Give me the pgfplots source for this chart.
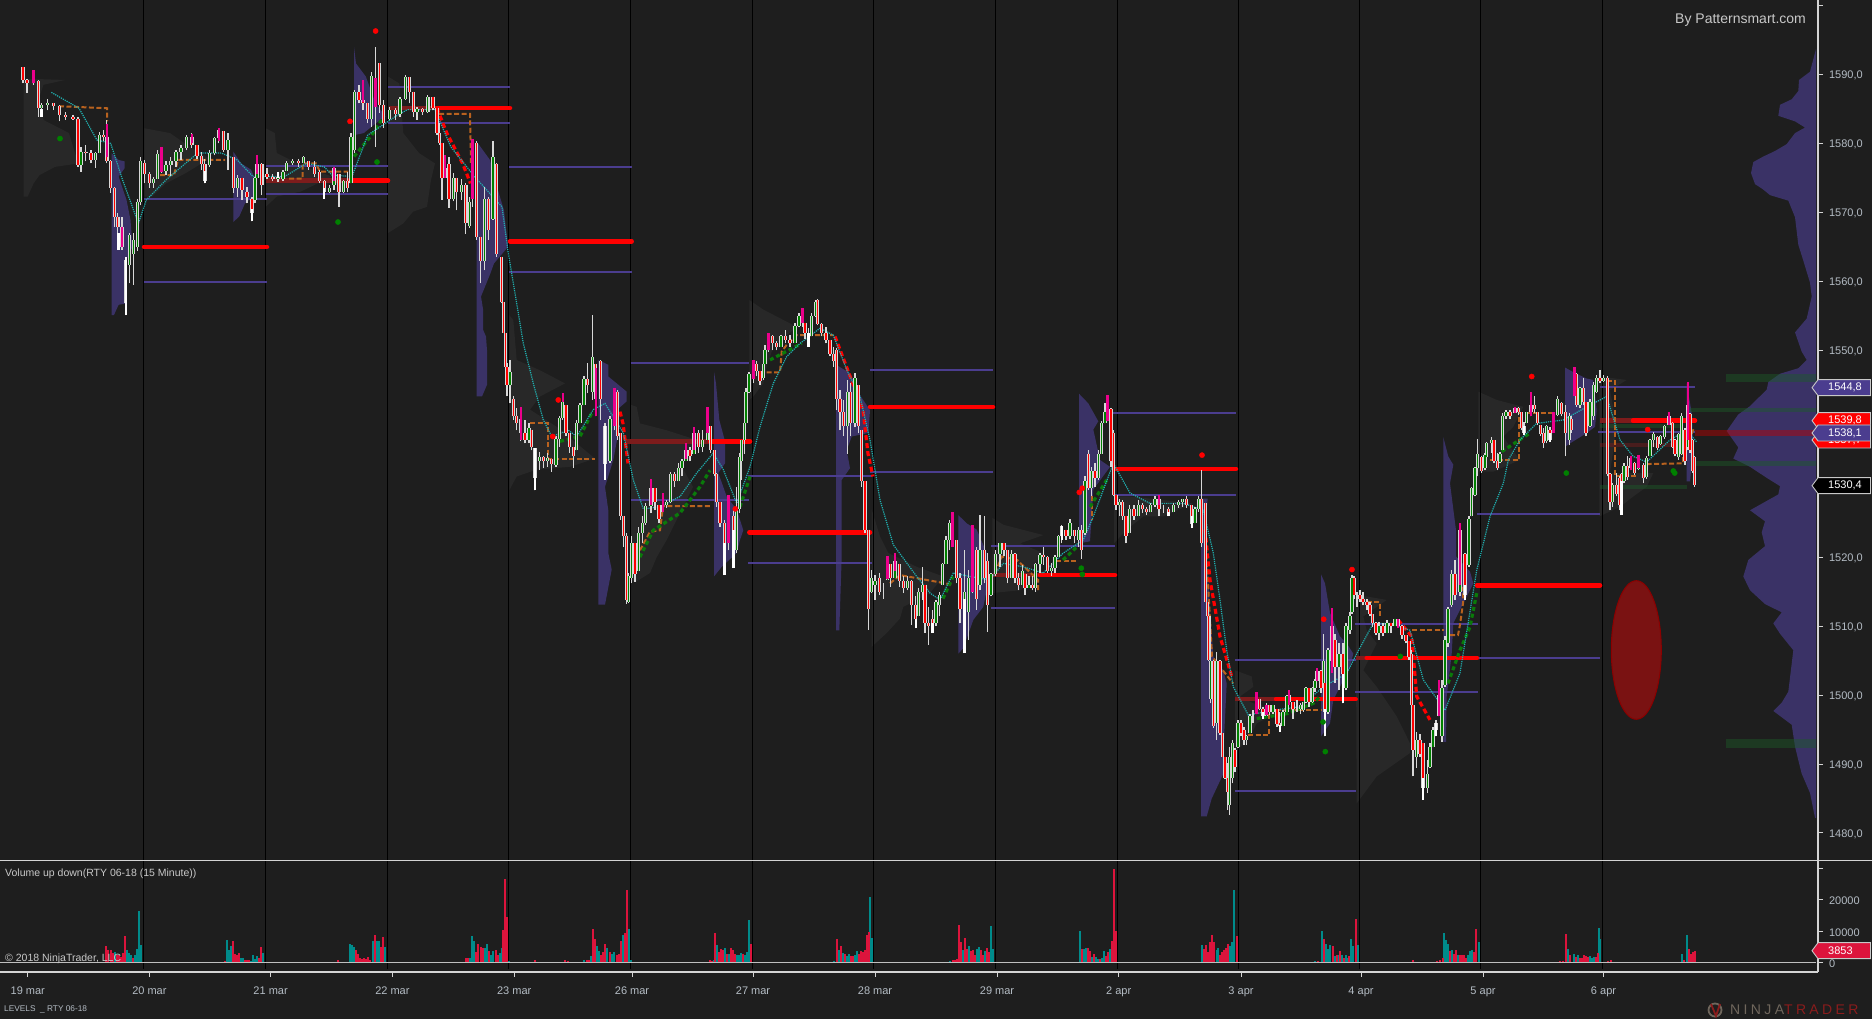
\documentclass[border=0pt]{standalone}
\usepackage{fontspec}
\setmainfont{Liberation Sans}
\usepackage{pgfplots}
\pgfplotsset{compat=1.18}
\definecolor{bg}{HTML}{1E1E1E}
\definecolor{gp}{HTML}{282828}
\definecolor{pp}{HTML}{3A3266}
\definecolor{bl}{HTML}{4B3D8F}
\definecolor{cand}{HTML}{D8D8D8}
\definecolor{axc}{HTML}{D4D4D4}
\definecolor{tk}{HTML}{B4BCC4}
\definecolor{orng}{HTML}{B8621F}
\definecolor{drk}{HTML}{7D1C1C}
\definecolor{grn}{HTML}{0A7A0A}
\definecolor{cy}{HTML}{20B0B0}
\definecolor{teal2}{HTML}{008B8B}
\definecolor{crim}{HTML}{DC143C}
\definecolor{lab}{HTML}{C8C8C8}
\definecolor{bandg}{HTML}{1C5A28}
% candles: x low high open close
\def\candledata{23 1588.7 1591.1 1591.1 1589.2
27 1587.3 1589.4 1589.2 1588.7
33.6 1588.5 1590.6 1588.7 1590.4
38.7 1583.9 1589.2 1589 1585.1
41.5 1583.8 1585.8 1585.1 1585.6
47.4 1584.8 1586.4 1585.6 1585.8
53.4 1584.9 1585.8 1585.8 1585.4
59.3 1583.2 1585.6 1585.4 1584.1
65.2 1583.4 1584.6 1584.1 1583.9
73 1583.4 1584.1 1583.9 1583.6
78 1576.6 1583.9 1583.6 1576.9
81 1575.9 1579.5 1576.9 1578.8
85.8 1577.4 1579.8 1578.8 1578.6
91 1577.1 1579 1578.6 1577.6
95.7 1576.5 1578.8 1577.6 1578.6
99.6 1578.8 1581.7 1578.6 1581.2
103.6 1580.3 1581.9 1581.2 1581
106.8 1577.1 1583.4 1581 1577.4
110.7 1572.8 1577.6 1577.4 1573.5
114.7 1567.9 1573.7 1573.5 1569.4
117.8 1564.6 1569.9 1569.4 1567.9
122 1564.6 1569.4 1567.9 1565
125.7 1555.1 1563.6 1556.8 1563.1
129.7 1559.7 1567 1562.4 1566.7
133.6 1559.5 1567 1564 1566
137.6 1564.4 1572 1565 1571.5
140.4 1571 1578 1571.5 1577.4
144.3 1574.2 1577.6 1577.2 1575.5
149.5 1573.5 1575.9 1575.5 1574.3
153.4 1573.5 1575.2 1574.3 1574.8
157.4 1575.2 1579 1574.8 1578.5
161.3 1575.7 1579.5 1578.5 1576
166 1575.4 1577.4 1576 1576.8
170.8 1575.3 1578 1576.8 1577.4
176 1576.6 1579 1577.4 1578.8
181 1577.6 1579.8 1578.8 1579.4
186.6 1579 1581.2 1579.4 1581
191.8 1579.3 1581.5 1581 1579.8
197 1577.8 1579.3 1579.8 1578.2
201.7 1576.2 1578.8 1578.2 1577
204.8 1574.2 1577.8 1577 1574.6
209.6 1576.6 1579 1576.8 1578.6
214.3 1578.3 1581 1578.6 1580.8
218.7 1580 1582.2 1580.8 1582
223.4 1578.8 1580.7 1581.8 1579
228 1576.2 1581.5 1579 1580.5
233.3 1572.8 1578 1578 1573.5
237.2 1572.3 1575.4 1573.5 1575
242 1571.8 1574.7 1575 1573.3
247 1571.3 1573.7 1573 1572.2
252 1568.7 1572.3 1572 1569.9
255 1571.3 1575.2 1571.8 1575
257 1575.2 1578.3 1575 1577
261.8 1572.5 1577.1 1577 1574
267 1574.9 1576.4 1575.5 1575.2
272.8 1574.5 1575.6 1575.2 1574.9
278 1574.4 1575.8 1574.9 1575.2
283 1574.6 1576.2 1574.8 1575.9
286.7 1576.2 1577.4 1576 1577.2
292.6 1576.9 1577.8 1577.1 1577.5
298.5 1576.6 1577.7 1577.4 1577.1
303.3 1577.1 1578.2 1577.2 1578
308.4 1576.2 1577.4 1577.5 1576.6
314.4 1575.2 1577.4 1576.6 1575.6
319.5 1574.2 1576.2 1575.8 1574.6
324.2 1572 1574.7 1574.6 1573
329.4 1572.8 1574 1573 1573.6
334 1573.2 1576.6 1574 1576.5
338.9 1570.8 1575.2 1575.5 1573
343.2 1572.8 1574.7 1573 1574.5
347.2 1572.9 1575.9 1574.5 1573.5
351 1574.2 1581.5 1574.2 1580.9
354.7 1578.6 1587.8 1579 1587.4
359 1585.8 1588.5 1587.4 1586.3
363 1584.9 1589.2 1586.3 1585.8
367.7 1582.9 1585.3 1585.8 1583.5
371.7 1582.4 1590.4 1583.5 1589.8
375.6 1579.5 1594 1589.5 1585.3
379.6 1584.4 1591.6 1591.6 1585.5
383.5 1582.2 1586.3 1585.5 1583
389.5 1583.4 1585.3 1583.5 1584.8
395.4 1583.4 1585.1 1584.8 1584.3
400 1583.9 1586.8 1584.3 1586.5
405.3 1586.3 1589.9 1586.5 1589.6
409.3 1585.8 1588.2 1589.6 1587.5
413.2 1583.9 1586.3 1587.5 1584.5
417 1583.4 1585.3 1584.5 1585
422.3 1584.1 1585.1 1585 1584.5
427.8 1584.4 1587 1584.5 1586.8
433 1584.8 1586.5 1586.8 1585.2
437 1581.2 1585.1 1585.2 1581.5
439.7 1579.8 1582.9 1581.5 1580
442 1571.8 1580 1580 1575
444.8 1575.2 1578.3 1575 1576.5
449 1570.6 1578.1 1577 1572
453.6 1571.6 1575.7 1572 1575
456.7 1570.3 1574.7 1575 1573
461.4 1571.8 1574.9 1573 1574
465.8 1566.9 1574.2 1574 1568.5
469.4 1567.7 1572.3 1568 1571.5
472.5 1570.8 1580.7 1580 1572
476.5 1566 1580.3 1580 1566.5
480.4 1559.7 1566.5 1566.5 1563
484.4 1561.6 1573.7 1563 1572
488.3 1566 1572.3 1572 1567.5
493 1568.9 1580.3 1569 1578
496.2 1563.6 1577.1 1577 1564
501.4 1556.8 1563.6 1563.6 1557
503.5 1552.5 1557 1557 1552.5
505.5 1547.6 1552.5 1552.5 1547.6
507 1543.3 1548.1 1547.6 1545
510 1542.3 1548.6 1545 1546.8
513.3 1539.9 1543.3 1543 1540.5
516.7 1538.4 1541.6 1540.5 1539.5
520.7 1536.8 1541.8 1540 1538
525 1536.5 1539.9 1538 1537
529 1536.5 1539.4 1537 1538.7
531.7 1535.5 1538.4 1538.5 1536
535 1529.7 1535.8 1535.8 1531.5
539.3 1532.7 1535.3 1534 1534.5
543.3 1532.9 1534.6 1534.5 1534
547.7 1533.1 1535.1 1534 1534.4
551.7 1532.4 1534.3 1534.3 1533.5
556 1533.1 1537.5 1533.4 1537.2
559.3 1536 1540.4 1537.2 1540.2
562.7 1539.9 1543.8 1540.2 1542.5
566 1537.5 1541.8 1542 1538
569.3 1535.1 1538 1538 1536
573.3 1532.9 1536 1536 1534.7
576.7 1535.5 1539.9 1535.5 1539.5
580 1539.4 1542.3 1539.5 1542
584 1542.3 1546.2 1542 1545.8
587.3 1543.8 1548.1 1545.8 1545
592.3 1542.8 1555.1 1544 1549
595.7 1540.4 1547.4 1548 1543
600.7 1539.9 1548.6 1548.5 1543
605 1531.2 1539.4 1539 1533.5
610 1533.6 1540.4 1534 1540
614.3 1538.4 1544.5 1540 1544
617.3 1537 1544.3 1544 1537.5
620.7 1525.4 1538 1538 1526
623.3 1521.5 1525.6 1526 1523
626.7 1513.2 1523.5 1523 1513.8
628.3 1513.3 1517.7 1513.5 1517.3
631.7 1516.2 1523 1517 1522
635 1516.4 1521 1522 1517.5
638.3 1518.6 1524.4 1518 1523.5
642.3 1522 1525.9 1523.5 1525
645.7 1524.7 1527.8 1525 1527.4
651 1526.4 1531.4 1527.4 1530
655 1526.9 1529.7 1530 1528
659 1524.9 1527.6 1527.5 1525.5
662.7 1526.6 1529.3 1526.5 1527.5
666.7 1527.1 1528.3 1527.5 1528
670.7 1527.8 1532.4 1528 1532
674.3 1530.2 1532.4 1532 1531
678.7 1531.4 1533.6 1531 1533
682 1531.7 1534.3 1533 1534
686 1534.1 1536.5 1534 1535.5
690 1533.9 1536 1535.5 1534.6
694 1535.5 1538.9 1535 1538
698.3 1535.1 1538.4 1538 1536
702.3 1535.3 1538.4 1536 1537
707.3 1538 1541.8 1537 1540
710.7 1535.1 1538.9 1539 1535.5
714.3 1531.7 1535.3 1535.5 1532
716.7 1527.3 1532.2 1532 1528
720 1524.4 1527.8 1528 1525
724.3 1517.4 1525.4 1525 1520
728.3 1521 1529 1522 1527
733.3 1518.4 1526.8 1526 1520
736.7 1520.6 1530.2 1521 1527
739.3 1526.4 1535.1 1527 1534.5
741.7 1531.2 1537 1534 1537
744.3 1535 1539.9 1537 1539.5
746 1539.4 1544.5 1539.5 1544
749 1543.8 1546.9 1544 1546.5
753.3 1545.2 1548.6 1546 1548
756.7 1546.2 1548.4 1548 1547
760 1545 1546.2 1547 1545.5
763.3 1545.7 1548.1 1546 1548
765 1548.1 1550.8 1548 1550
768.3 1549.8 1552.5 1550 1552.5
772.7 1550 1552.2 1552 1551
776.7 1550 1551.3 1551 1550.5
781 1550.8 1552.2 1550.5 1552
785.7 1551 1552.9 1552 1551.5
790 1550.5 1552.2 1551.5 1551
795 1551.3 1553.9 1551 1553.5
799 1553.4 1555.4 1553.5 1555
802.3 1553.4 1556.1 1555 1554
805 1551.7 1553.7 1554 1552.5
808.3 1550.5 1553.2 1552.5 1552
811.7 1552.5 1555.4 1552 1555
815.7 1554.9 1557.3 1555 1557
817.7 1553.7 1557.4 1557.3 1553.8
821.7 1552 1553.9 1553.8 1552.5
826 1551 1553.4 1552.5 1551.5
830 1549.1 1551.5 1551.5 1549.5
833.3 1547.6 1550.5 1549.5 1548.5
836.7 1541.3 1550.3 1550 1543
840 1538.4 1544.2 1543 1541
843.3 1537.5 1542.8 1541 1539
847.3 1535 1545.7 1539 1544
850.7 1537.5 1545.2 1544 1539.5
855 1538.9 1546.7 1539.5 1546
858.3 1538 1543.3 1545 1539
861.7 1530.2 1538 1538.5 1531
865 1523.5 1530.7 1531 1524
868.3 1509.5 1524 1524 1512.5
871.7 1514.8 1518.1 1515 1517
875 1513.8 1517.4 1516 1516.5
879.3 1514.5 1517.7 1517 1515
883.3 1514 1516.2 1515 1515
887.3 1516.7 1520.1 1516.7 1519
890.7 1515.7 1518.6 1519 1517
895 1517.2 1520.6 1517 1519.5
899.3 1515.7 1518.6 1519 1516.5
903.3 1514.8 1517.2 1516.5 1515.5
907.7 1515.2 1517.2 1515.5 1516.5
911.7 1510.2 1516.7 1516.5 1513
915.7 1509.7 1514.3 1513 1511
918.3 1511.6 1515.5 1511.5 1515
922.3 1513.8 1518.6 1515 1516
925 1509 1515.2 1516 1510.5
928.3 1507.3 1512.8 1510.5 1510
932.3 1509 1512.4 1511 1510.5
936 1510 1513.8 1510.5 1513.5
939.3 1511.4 1515 1513 1514.5
942.7 1516 1519.1 1516 1519
946 1519.1 1523 1519 1522.5
949.3 1521 1525.4 1522.5 1525
952.3 1521.5 1526.6 1525 1522.5
956.7 1516.2 1521.5 1522.5 1517
960 1510.4 1517.7 1517 1512.5
964.3 1506.1 1521 1512 1515
968.3 1508 1518.1 1512 1517
972.3 1514.8 1524.7 1517 1522
976.7 1512.4 1521.5 1521 1514
980 1515.2 1526.1 1516 1521
984.3 1516.2 1525.9 1521 1517
987.7 1509.2 1520.6 1519.5 1513
991 1514.3 1517.7 1514.5 1517.5
995.7 1517.2 1521 1517.5 1520.5
1000 1518.6 1522 1520.5 1522
1004 1520.1 1522.1 1522 1521
1007.7 1516.2 1520.8 1521 1517
1011.7 1517.7 1521 1517 1520.5
1015 1516.2 1520.6 1520.5 1517
1018.3 1515.2 1517.7 1517 1516
1022.3 1516.2 1518.9 1516 1518
1025 1514.5 1517.4 1517.5 1515.5
1029 1515.5 1517.2 1515.5 1516
1032.7 1515.2 1517.2 1516 1515.5
1035.7 1515 1519.1 1515.5 1519
1040 1517.7 1520.6 1519 1520.3
1043.3 1518.9 1521.5 1520.3 1520
1047.3 1517.7 1520.1 1520 1518
1051.7 1517.2 1519.1 1518 1518.5
1055 1517.7 1520.3 1518.5 1520
1058.3 1520.3 1523.2 1520 1523
1061.7 1522 1524.7 1523 1524.5
1066 1522.5 1524 1524 1523
1070 1522.7 1525.6 1523 1525
1074.3 1522 1523.7 1524 1523
1078.3 1521.5 1524.4 1522.5 1524
1081.7 1519.8 1524.7 1524 1521
1085 1523.2 1531.7 1523.5 1531
1088.3 1529.8 1535.5 1535 1530
1091.7 1528.8 1533.1 1530 1532.5
1095 1530.2 1533.6 1532.5 1531.5
1098.3 1531.2 1535.5 1531.5 1535
1101.7 1535 1539.7 1535 1539.5
1105 1539.4 1542.3 1539.5 1541
1107.3 1539.7 1543.5 1540 1543
1111 1533.1 1541.6 1541.5 1534
1113.3 1528.8 1538.5 1538 1529
1116 1526.9 1528.8 1529 1527.5
1119.3 1525.9 1528.5 1527.5 1528
1122.7 1525.4 1528.3 1528 1526
1126 1522 1525.9 1526 1523
1129.3 1524 1527.6 1523.5 1527
1134 1525.4 1527.6 1527 1526
1138.3 1526.4 1528.3 1526 1527.5
1142.3 1526.4 1527.8 1527.5 1527
1146.7 1526.1 1527.3 1527 1526.5
1150.7 1526.6 1527.8 1526.5 1527.5
1155 1527.3 1528.8 1527.5 1528.5
1159 1525.9 1529 1528.5 1527
1163.3 1526.4 1527.6 1527 1527
1168.3 1525.9 1527.3 1527 1526.5
1173.3 1526.8 1527.8 1526.5 1527.5
1178.3 1527.1 1528.3 1527.5 1528
1182.7 1527.3 1528.5 1528 1528.5
1186.7 1527.1 1528.8 1528.5 1527.5
1191.7 1524.2 1527.3 1527.5 1524.8
1195 1525.4 1527.3 1525 1527
1198.3 1526.6 1528.8 1527 1528.5
1201.7 1521.5 1532.7 1528.5 1522
1205.3 1513.5 1527.8 1527.8 1513.5
1207.3 1511.4 1513.5 1513.5 1511.5
1208.8 1505 1511.4 1511.4 1505.1
1210.7 1498.8 1505.1 1499.5 1505
1213.3 1495.2 1505.1 1505 1495.5
1216.7 1493.5 1506.3 1496 1505
1220 1494.2 1505.1 1505 1494.5
1222.7 1491 1494.2 1494.5 1491
1225 1487.9 1491 1491 1488
1227.3 1483.3 1490.1 1488 1486
1229.3 1482.6 1492.5 1484 1491
1232.7 1487.2 1493.5 1488 1493
1235 1488.9 1492.3 1492 1489.5
1238 1492.3 1496.4 1492.5 1496
1241 1494 1496.4 1496 1494.5
1244 1492.8 1495.4 1495 1493.5
1246.7 1492.8 1494.2 1493.5 1494
1250 1494.5 1497.3 1494.5 1497
1253 1495.9 1497.8 1497 1497
1256.3 1497.3 1500.5 1497.3 1499.5
1259.7 1497.8 1499.3 1499.5 1498
1263 1496.6 1498.3 1498 1497
1266.3 1497.1 1498.8 1497 1498.5
1269.7 1497.1 1498.3 1498.5 1497.5
1273 1497.3 1498.6 1497.5 1498.5
1277 1495.4 1497.6 1498 1495.8
1279.7 1494.7 1497.6 1496 1495.5
1283 1495.9 1497.8 1495.5 1497.5
1287 1498.1 1500 1497.5 1499.8
1289 1498.6 1500.7 1500 1499
1293 1496.6 1498.8 1499 1498
1297 1497.6 1499.3 1498 1498
1300.7 1497.3 1498.8 1498 1498.5
1303.3 1497.6 1499 1497.8 1499
1306 1498.8 1501.2 1499 1501
1309 1498.3 1500.7 1501 1499
1312.3 1498.8 1501.2 1499 1501
1315 1500.5 1502.4 1501 1502
1317 1502 1503.9 1502 1503.5
1321 1500.3 1503.6 1503.5 1501
1323.3 1501.7 1508.9 1501.7 1505
1325 1494 1501.7 1501.7 1497.5
1328 1497.3 1506.8 1497.5 1506.5
1332 1503.2 1512.6 1505 1510
1335 1501.7 1508.9 1508 1504
1339 1500.7 1507.5 1504 1506
1343 1498.8 1507.5 1506 1503
1346 1500.7 1510.4 1501 1510
1350 1508.9 1512.1 1509.5 1511.5
1352 1511.8 1517.4 1512 1517
1354 1514 1517.2 1517 1514.5
1357 1512.8 1515 1514.5 1514.5
1360 1513.5 1515.2 1514.5 1514
1363 1513 1515 1514 1513.5
1367 1512.3 1514 1513.5 1513
1370 1511.4 1513.5 1513 1511.7
1372.7 1509.9 1511.6 1511.7 1510.5
1376 1508.7 1510.6 1510.5 1509
1379 1508 1510.6 1509 1510
1383 1508.5 1510.4 1510 1509
1387 1509.2 1510.9 1509 1510.5
1391 1509 1510.4 1510.5 1510
1395 1510.2 1511.1 1510 1511
1398 1509.7 1511.1 1511 1510
1402 1508.2 1510.2 1510 1508.7
1406 1507.5 1508.7 1508.7 1507.8
1409 1505.1 1507.7 1507.8 1505.5
1411.3 1498.3 1506.5 1506 1498.5
1413 1488.2 1498.3 1498.5 1492
1416.7 1489.4 1494.7 1491 1493.5
1420 1491 1494.4 1493.5 1491.5
1423 1484.8 1493 1493 1486.5
1427.3 1485.8 1490.6 1486.5 1488.5
1430 1489.4 1493 1489.5 1492.5
1433 1492.5 1495.4 1492.5 1495
1436 1494 1496.4 1495 1496
1439 1496.9 1502.2 1497 1500
1442 1493.2 1502.2 1494 1501
1445 1501.2 1508.5 1501.5 1508
1448 1507 1512.8 1507.5 1512.5
1451.7 1512.8 1518.1 1513 1517.5
1455 1513.8 1519.6 1517.5 1514.5
1460 1514.3 1525 1515 1524
1465 1513.8 1520.6 1520.5 1514.5
1469 1518.6 1525.9 1518.8 1525.5
1471.7 1525.9 1530.2 1525.9 1530
1475 1528.8 1533.1 1529 1533
1477.3 1531.7 1537.2 1533 1535
1481.7 1532.2 1534.6 1534.5 1532.5
1485 1532.6 1535.1 1533 1534.8
1486.7 1534.1 1536.7 1534.5 1536.5
1491.7 1535.1 1537.4 1536.5 1537
1494 1533.6 1537 1537 1534
1497.3 1532.6 1535.1 1534 1533
1500 1533.6 1535.3 1533.8 1535
1502.7 1535.5 1540.9 1535.6 1540.5
1506 1540.1 1541.4 1540.5 1541
1510 1540.1 1541.4 1541 1540.5
1515 1540.9 1541.8 1540.9 1541.6
1518.3 1540.6 1541.8 1541.6 1541
1521.7 1538.4 1541.1 1541 1538.8
1524 1537.7 1539.6 1539 1538
1526.7 1539.4 1541.1 1539.5 1541
1531 1540.4 1544 1541 1542
1534.3 1540.9 1543.3 1542 1541.5
1537.3 1539.2 1541.1 1541 1539.5
1540.7 1537.5 1539.2 1539.2 1537.8
1543.3 1535.8 1538.7 1538 1536.5
1546.7 1536.5 1539.2 1536.8 1539
1550 1536.7 1538.9 1538.5 1537
1553.3 1538 1541.1 1538.5 1540.5
1557.3 1540.4 1543.3 1540.6 1543
1561.7 1540.4 1542.5 1542.4 1540.8
1565.7 1534.6 1542 1541 1538
1569.3 1536.3 1540.9 1537 1540.5
1571.7 1538 1540.4 1540 1538.5
1574.3 1543.3 1547.6 1543.5 1547
1576.7 1541.8 1546.7 1546.5 1542
1580 1541.6 1544.7 1542 1544.5
1583.3 1542 1546 1544.5 1542.5
1586 1537.5 1542.5 1542.5 1538
1590 1538.9 1543 1539 1542.5
1593.3 1539.9 1545.4 1540.5 1545
1596.7 1543.8 1546.4 1544 1546
1600 1545.2 1547.1 1546 1545.5
1603.3 1545.4 1546.4 1545.5 1546
1607.3 1531.7 1546.3 1546 1532
1610 1526.8 1532.2 1532 1528
1612.7 1527.3 1530.7 1528 1530.5
1616.7 1528.8 1532.2 1530.5 1529.2
1619.3 1526.8 1531.7 1531.5 1527.5
1621.3 1526.1 1532.2 1532 1528
1624 1530.7 1533.6 1531 1533.2
1627.3 1531.2 1534.6 1533.2 1531.6
1630.7 1532.6 1534.6 1533 1534.4
1634.3 1531.9 1533.8 1533.6 1532.2
1638.3 1532.6 1534.8 1532.8 1534.5
1643.3 1530.7 1533.6 1533.4 1531.5
1646.7 1531.4 1534.6 1531.6 1534.4
1650 1534.6 1537.2 1534.6 1537
1653.3 1536 1538.2 1537 1537.8
1657.3 1535.5 1537.5 1537.4 1535.8
1660.7 1536.3 1537.7 1536.4 1537.5
1664.3 1537.2 1539.2 1537.4 1539
1669 1539.2 1541.1 1539.2 1540.5
1672.3 1535.8 1539.6 1539.5 1536
1675 1534.6 1537.2 1537 1535
1678.3 1534.1 1538 1534.5 1537.8
1681.7 1534.8 1540.9 1535 1540.5
1685 1533.4 1538.7 1538.5 1534
1687.7 1535.5 1545.4 1536 1542
1690 1535.1 1540.9 1540.8 1535.5
1692.7 1532.2 1537.2 1537 1532.5
1694.7 1530.2 1534.6 1534.5 1530.5
x 0 0 0 0 }
% highlighted candle bodies: x low high
\def\magentadata{33.6 1588.7 1590.6
106.8 1578 1582.8
122 1565 1567.9
161.3 1575.9 1579.5
191.8 1580 1581.4
218.7 1580.4 1582.2
257 1575.5 1578.3
334 1574.5 1576.6
363 1586 1589.2
375.6 1585.3 1589.5
444.8 1575 1578.3
472.5 1572 1580.7
520.7 1537 1541.8
562.7 1542.5 1543.8
595.7 1540.4 1547.4
614.3 1539 1544.5
651 1527.5 1531.4
662.7 1526.6 1529.3
686 1534.2 1536.5
694 1535.5 1538.9
707.3 1538 1541.8
728.3 1522 1529
753.3 1545.8 1548.6
768.3 1550 1552.5
802.3 1554 1556.1
887.3 1516.8 1520.1
895 1518 1520.6
952.3 1521.5 1526.6
972.3 1515 1524.7
1107.3 1539.7 1543.5
1159 1527.5 1529
1256.3 1497.3 1500.5
1266.3 1497.1 1498.5
1289 1498.6 1500.7
1317 1502 1503.9
1332 1503.2 1512.6
1398 1509.7 1511.1
1439 1496.9 1502.2
1460 1516 1525
1515 1540.9 1541.8
1531 1540.4 1544
1553.3 1538 1541.1
1574.3 1543.3 1547.6
1630.7 1532.6 1534.6
1638.3 1533 1534.8
1669 1539.2 1541.1
1687.7 1537 1545.4
x 0 0 }
\def\whitedata{41.5 1583.8 1585
118.6 1564.6 1567
125.7 1555.1 1563.6
204.8 1574.2 1576
252 1568.7 1570.5
278 1575 1575.8
324.2 1572 1573.5
535 1529.7 1535.8
605 1531.2 1539
724.3 1517.4 1522
733.3 1518.4 1524
808.3 1550.5 1552.5
915.7 1509.7 1511
932.3 1509 1510.5
964.3 1506.1 1514
1061.7 1522.5 1524.5
1168.3 1525.9 1526.6
1191.7 1524.2 1526
1263 1496.6 1497.5
1279.7 1494.7 1495.7
1325 1494 1498
1343 1498.8 1503
1423 1484.8 1488
1436 1494 1496
1464.7 1513.8 1516
1524 1537.7 1539
1550 1536.7 1538
1621.3 1526.1 1531
x 0 0 }
% volume: x volume
\def\volupdata{115 3300
127 4000
129 3000
131 2600
135 2400
137 4500
139 16400
141 5600
198.3 300
218.3 100
227.3 7200
229.3 4000
231.3 5300
241.3 1600
243.3 1600
251.3 600
253.3 2400
255.3 1100
257.3 2100
263.3 3200
345.3 200
350 6100
352 5600
354 4900
373.3 7000
377.3 7000
379.3 7000
385.3 4900
400 100
459.3 200
463.3 200
470 1600
472 8500
474 7000
485 4800
487 6000
491 2300
493 3700
499.7 3100
501.7 4800
509.3 400
528.3 100
580 100
584 1000
590.7 2000
596.7 5200
598.7 3600
607.3 4800
612 2900
614 3300
622.7 8700
628.7 10600
630.7 700
643.3 100
650 100
680 200
695 100
706.7 300
714 1000
716.7 5800
724.7 4800
728.7 2900
736.7 2300
738.7 2500
740.7 3200
744.7 2300
746.7 3300
748.7 13500
834 400
838.7 3900
842.7 3200
846.7 2100
848.7 2900
854.7 2500
856.7 3600
870 20800
872 8000
885 100
932.7 100
946.7 100
950 400
963 3900
969 5200
977 4500
979 4900
985 3700
991 11600
993 4500
1076 200
1080 10000
1084 4500
1086 4800
1092 1800
1096 1800
1098 1300
1102 1600
1104 3600
1110 4500
1118.7 100
1202 5800
1216.7 4200
1218.3 4800
1230 5200
1232 6500
1234.3 23300
1286.7 200
1315 400
1321.7 10000
1326 6000
1328 4500
1330 5500
1334.7 2100
1338.7 2600
1342 2300
1346 2300
1347.7 1500
1351.3 7400
1353.3 5200
1357.7 5800
1416.7 300
1433.3 200
1444 9600
1446 7100
1448 6000
1452 4200
1458 2300
1468 2300
1470 3600
1472 3900
1478.7 6500
1531.7 100
1567.7 4300
1574 2800
1578 2600
1590 2100
1592 1600
1594 1700
1599 11200
1600.3 7500
1651.7 100
1665 100
1678.3 100
1681.7 2800
1686.7 8800
x 0 }
\def\voldndata{78 300
80 300
100 200
106 5300
108 4000
111 4000
113 3000
117 2600
119 2400
121 1900
123 3200
125 8500
133 1600
223.3 200
225.3 600
233.3 6900
235.3 2800
237.3 2400
239.3 3000
245.3 850
247.3 850
249.3 850
259.3 1600
261.3 4900
338.3 850
340 300
356 4000
358 2800
360 1600
362 1300
364 1600
366 1100
368 1700
370 850
375.3 8800
381.3 5000
383.3 8300
440 200
448.3 300
453.3 300
456.7 300
466 1400
468 1400
476 3500
478 5900
481 4900
483 4800
489 3700
495.7 3900
497.7 2300
503.3 10300
505.3 26700
507.3 14700
518.3 200
523.3 200
531.7 200
535 700
565 700
568.3 400
586.7 1000
588.7 700
592.7 10600
594.7 7400
600.7 2600
602.7 3300
604.7 6000
610 3300
616.7 2300
618.7 2900
620.7 6800
624.7 9400
626.7 23300
703.3 100
710 700
712 400
715 9600
718.7 3400
720.7 4500
722.7 4100
726.7 2900
730.7 4800
732.7 3900
734.7 2900
742.7 2900
750.7 6000
826.7 100
830 100
836.7 7400
840.7 5200
844.7 2900
850.7 2100
852.7 2100
858.7 2900
860.7 3600
862.7 3300
865 4200
866.7 8700
868.7 9800
925 100
928.3 100
952.7 700
955 700
957 1300
959 11900
961 6600
965 8000
967 4500
971 3700
973 4200
975 2300
981 4200
983 2300
987 4800
989 3400
1071.7 200
1082 4500
1088 4800
1090 3600
1094 2900
1100 1300
1106 2100
1108 3300
1112 6800
1114 30000
1116 10000
1195 100
1198.7 100
1204 4500
1206 5800
1208 3400
1210 6500
1212 8700
1214 6600
1220 2600
1222 3400
1224 4100
1226 4800
1228 6000
1236.7 8400
1306.7 200
1310 200
1318.3 400
1324 7400
1332.7 5200
1336.7 2600
1340 3600
1344 1600
1349.3 2000
1355.7 13800
1413.3 1000
1425 300
1436.7 400
1440 1000
1442.7 1500
1450 3700
1454 2900
1456 3900
1460 2600
1462 2600
1464 2600
1466 1500
1474 3300
1476 10600
1555 300
1560 400
1563.3 500
1565.7 9100
1570 2400
1576 1700
1580 1600
1582 1600
1584 2400
1586 2100
1588 1900
1596 1700
1598 3000
1608.3 500
1610.7 850
1615 300
1684 850
1688.7 4500
1690.7 2800
1692.7 3400
1694.7 3853
x 0 }
% turn the rows into broken-line coordinate lists (one path per series saves TeX memory)
\def\wick{}\def\cbody{}\def\inup{}\def\indn{}
\def\parsecand#1 #2 #3 #4 #5 {\ifx x#1\else
  \edef\wick{\wick(#1,#2)(#1,#3)(#1,nan)}%
  \edef\cbody{\cbody(#1,#4)(#1,#5)(#1,nan)}%
  \ifdim#4pt<#5pt \edef\inup{\inup(#1,#4)(#1,#5)(#1,nan)}\else\edef\indn{\indn(#1,#4)(#1,#5)(#1,nan)}\fi
  \expandafter\parsecand\fi}
\expandafter\parsecand\candledata
\def\parseseg#1 #2 #3 {\ifx x#1\else\xdef\res{\res(#1,#2)(#1,#3)(#1,nan)}\expandafter\parseseg\fi}
\def\parsevol#1 #2 {\ifx x#1\else\xdef\res{\res(#1,0)(#1,#2)(#1,nan)}\expandafter\parsevol\fi}
\def\res{}\expandafter\parseseg\magentadata\let\magpath\res
\def\res{}\expandafter\parseseg\whitedata\let\whipath\res
\def\res{}\expandafter\parsevol\volupdata\let\volup\res
\def\res{}\expandafter\parsevol\voldndata\let\voldn\res
\newcommand{\jumpplot}[2]{\edef\tmpplot{\noexpand\addplot[#1,unbounded coords=jump] coordinates {#2};}\tmpplot}
% helpers
\newcommand{\prof}[2]{\addplot[fill=#1,draw=none] coordinates {#2};}
\newcommand{\seg}[4]{\addplot[#1] coordinates {(#2,#4)(#3,#4)};}
\newcommand{\daysep}[1]{\draw[black,line width=1.1pt] (axis cs:#1,1470) -- (axis cs:#1,1610);}
\newcommand{\daysepv}[1]{\draw[black,line width=1.1pt] (axis cs:#1,-2010) -- (axis cs:#1,33000);}
\newcommand{\pricelab}[4]{%
  \draw[draw=lab,fill=#2,line width=0.9pt] (1812pt,#1pt) -- (1818pt,#1pt+8pt) -- (1870.5pt,#1pt+8pt) -- (1870.5pt,#1pt-8pt) -- (1818pt,#1pt-8pt) -- cycle;
  \node[anchor=west,inner sep=0pt,text=#4,font=\fontsize{11}{12}\selectfont] at (1828pt,#1pt) {#3};}
\tikzset{lvl/.style={red,line width=4.5pt,line cap=round},
 dlvl/.style={drk,line width=4.5pt},
 blv/.style={bl,line width=2pt},
 orn/.style={orng,line width=2pt,dash pattern=on 5pt off 2.5pt},
 trg/.style={grn,line width=3.2pt,dash pattern=on 4pt off 3pt},
 trr/.style={red,line width=3.2pt,dash pattern=on 5pt off 3pt},
 band/.style={line width=#1,opacity=0.45}}
\begin{document}
\begin{tikzpicture}[x=1pt,y=1pt]
\fill[bg] (0,0) rectangle (1872pt,1019pt);
\path[use as bounding box] (0,0) rectangle (1872pt,1019pt);
% ---- volume panel
\begin{axis}[at={(0pt,47pt)},anchor=south west,scale only axis,width=1818pt,height=111pt,
  xmin=0,xmax=1818,ymin=-2967,ymax=32440,
  axis x line*=bottom,axis y line*=right,
  axis line style={axc,line width=1.1pt,-},
  xtick={27.8,149.4,270.6,392.4,514.2,632,753,875,997,1118.7,1241,1361,1483,1603.5},
  xticklabels={19 mar,20 mar,21 mar,22 mar,23 mar,26 mar,27 mar,28 mar,29 mar,2 apr,3 apr,4 apr,5 apr,6 apr},
  ytick={0,10000,20000,30000},yticklabels={0,10000,20000,{}},
  tick align=outside,major tick length=5pt,
  every tick/.style={axc,line width=1pt},
  tick label style={text=tk,font=\fontsize{11}{12}\selectfont},
  xticklabel style={yshift=-6.5pt},yticklabel style={xshift=2.5pt,yshift=-1pt},
  scaled ticks=false,clip=true]
\foreach \s in {143.3,265.3,387.3,508.7,630.7,752.7,873.3,995.3,1117.3,1238.3,1359.3,1480.3,1602.5}{\edef\t{\noexpand\daysepv{\s}}\t}
\jumpplot{teal2,line width=2pt}{\volup}
\jumpplot{crim,line width=2pt}{\voldn}
\end{axis}
% ---- price panel
\begin{axis}[at={(0pt,158pt)},anchor=south west,scale only axis,width=1818pt,height=861pt,
  xmin=0,xmax=1818,ymin=1475.94,ymax=1600.8,
  hide x axis,axis y line*=right,
  axis line style={axc,line width=1.1pt,-},
  ytick={1480,1490,1500,1510,1520,1530,1540,1550,1560,1570,1580,1590,1600},
  yticklabels={{1480,0},{1490,0},{1500,0},{1510,0},{1520,0},{1530,0},{1540,0},{1550,0},{1560,0},{1570,0},{1580,0},{1590,0},{}},
  tick align=outside,major tick length=5pt,
  every tick/.style={axc,line width=1pt},
  tick label style={text=tk,font=\fontsize{11}{12}\selectfont},
  yticklabel style={xshift=2.5pt,yshift=-1pt},clip=true]
% session profiles
\prof{gp}{(23.7,1589.4)(65,1589.2)(43.5,1588.5)(39.5,1586.8)(43.5,1583.4)(69,1581.5)(75,1578.6)(79,1577.1)(55,1576.6)(39.5,1575.4)(33.6,1574.2)(27.7,1572.3)(23.7,1572.3)}
\prof{pp}{(111.5,1578.6)(118.6,1577.6)(124.6,1577.4)(124.6,1576.4)(118.6,1575.2)(126.5,1571.8)(130.5,1568.9)(132.5,1565)(126.5,1563.1)(126.5,1556.8)(118.6,1556.6)(113.9,1555.1)(111.5,1555.1)}
\prof{gp}{(144.3,1582.2)(170,1581.5)(189.8,1579.5)(209.6,1577.8)(185.8,1575.7)(166,1574.2)(152.2,1572.3)(144.3,1572.3)}
\prof{pp}{(233.3,1578.8)(241.2,1577.1)(251,1576.2)(257,1574.2)(253,1572.3)(245,1571.3)(239.2,1569.4)(233.3,1568.6)}
\prof{gp}{(265.7,1582.2)(274.8,1581.5)(276.8,1578.6)(304.5,1576.6)(332,1575.2)(300.5,1573)(276.8,1572.3)(265.7,1570.8)}
\prof{pp}{(354,1594)(356,1591.6)(365.8,1589.7)(375.6,1585.8)(385.5,1583.9)(375.6,1582.9)(363.8,1581.5)(354,1581.2)}
\prof{gp}{(388,1589.7)(399.4,1588.7)(403.3,1581.5)(419,1578.6)(435,1577.1)(431,1574.7)(427,1570.8)(413,1570.1)(403.3,1568.4)(388,1567)}
\prof{pp}{(476.5,1580.3)(490,1577.6)(498,1573.2)(504,1570.3)(508,1565)(494,1562.6)(490,1561)(481,1557.8)(483,1556)(483,1553)(486,1552)(487,1550)(487,1545)(482,1543.3)(476.5,1543.3)}
\prof{gp}{(509.3,1555.1)(513.3,1554.4)(516.7,1548.6)(540,1547.1)(565,1545.2)(540,1543.3)(530,1541.4)(556.7,1538.9)(595,1534.3)(570,1533.1)(536.7,1532.7)(516.7,1531.7)(509.3,1529.7)}
\prof{pp}{(598.3,1548.6)(608.3,1547.9)(608.3,1546.2)(626.7,1544)(626.7,1542.6)(613.3,1540.9)(618.3,1538)(613.3,1534.1)(605,1530.2)(608.3,1526.8)(608.3,1520.6)(611.7,1518.2)(605,1513.1)(598.3,1513.1)}
\prof{gp}{(630.7,1542.1)(636.7,1541.8)(640,1539.4)(666.7,1538.4)(696.7,1537)(680,1533.6)(693,1530.2)(666.7,1522.5)(656.7,1520)(650,1517.7)(636.7,1516.5)(630.7,1516.5)}
\prof{pp}{(714,1546.9)(716,1545.2)(719.3,1539.9)(725,1536.8)(725,1533.6)(718.3,1532.2)(726.7,1528.8)(736.7,1526.9)(743.3,1523.9)(740,1522.5)(736.7,1520.6)(721.7,1518.6)(714,1517.2)}
\prof{gp}{(749.3,1557.3)(763.3,1555.9)(796.7,1553.4)(773.3,1550.5)(766.7,1547.6)(763.3,1545.2)(753.3,1543.3)(749.3,1542.8)}
\prof{pp}{(836,1547.9)(850,1546.7)(860,1543.5)(870,1541.3)(868.3,1538)(851.7,1537.5)(846.7,1535.5)(850,1532.9)(841.7,1531.2)(841.7,1520.1)(839.3,1509.4)(836,1509.4)}
\prof{gp}{(871.7,1526.9)(880,1523)(888.3,1520.6)(916.7,1518.6)(943.3,1517.2)(930,1514.8)(903.3,1512.8)(900,1511.1)(886.7,1509)(871.7,1507)}
\prof{pp}{(958.3,1526.1)(966.7,1524.9)(976.7,1524)(986.7,1520.6)(986.7,1515.2)(983.3,1512.8)(973.3,1510.9)(963.3,1506.8)(958.3,1506)}
\prof{gp}{(992.3,1525.7)(1003.3,1524.7)(1043.3,1523.2)(1020,1522)(1043.3,1520.6)(1030,1518.1)(1036.7,1516.7)(1020,1515.2)(992.3,1514.8)}
\prof{pp}{(1079,1543.7)(1088.3,1542.3)(1098.3,1539.7)(1093.3,1538.5)(1100,1534.1)(1110,1533.1)(1093.3,1529.8)(1090,1522.3)(1079,1522)}
\prof{gp}{(1114,1528.8)(1130,1528.8)(1193.3,1527.8)(1163.3,1525.9)(1143.3,1525.9)(1126.7,1524)(1114,1522)}
\prof{pp}{(1201,1528.5)(1207.7,1528.5)(1205,1524.9)(1210,1512.3)(1213.3,1505.6)(1223.3,1503.6)(1226.7,1501.7)(1223.3,1491.6)(1225,1489.1)(1211.7,1485)(1206.7,1482.4)(1201,1482.4)}
\prof{gp}{(1235,1503.6)(1251.7,1502.7)(1253.3,1501.2)(1240,1499.8)(1253.3,1498.8)(1283.3,1497.8)(1256.7,1495.9)(1250,1494)(1235,1491.6)}
\prof{pp}{(1321,1517.5)(1325,1516.2)(1330,1511.9)(1340,1508.5)(1346.7,1507.5)(1353.3,1506)(1350,1504.1)(1340,1501.2)(1333.3,1499.3)(1330,1495.9)(1321,1494)}
\prof{gp}{(1355.7,1514.3)(1366.7,1514.3)(1386.7,1513.8)(1363.3,1511.4)(1366.7,1509.4)(1376.7,1507.5)(1363.3,1503.6)(1376.7,1501.2)(1396.7,1496.9)(1410,1493)(1410,1491.6)(1376.7,1488.2)(1356.7,1484.3)}
\prof{pp}{(1443.3,1537.4)(1448.3,1534.6)(1453.3,1533.4)(1450,1530.7)(1456,1523.9)(1456,1520.1)(1470,1517.9)(1473.3,1516.2)(1463.3,1513.3)(1453.3,1510.4)(1451.7,1506)(1446.7,1499.8)(1446,1493.2)(1443.3,1493.2)}
\prof{gp}{(1478.3,1544)(1496.7,1542.8)(1523.3,1541.8)(1513.3,1538.9)(1503.3,1537.5)(1510,1536)(1520,1534.1)(1493.3,1532.4)(1478.3,1532.4)}
\prof{pp}{(1565,1547.5)(1575,1546.7)(1586.7,1545.9)(1593.3,1545.7)(1596.7,1541.3)(1595,1538.9)(1586.7,1538)(1570,1536.5)(1565,1536)}
\prof{gp}{(1599.3,1546.2)(1626.7,1545.7)(1610,1544.2)(1616.7,1538.9)(1610,1532.2)(1653.3,1532.2)(1646.7,1530.2)(1633.3,1528.8)(1620,1527.3)(1599.3,1525.9)}
\prof{pp}{(1686.7,1545.2)(1691.7,1540.9)(1693.3,1536)(1690,1531)(1686.7,1531)}
% composite profile at the right
\prof{pp}{(1816,1593.7)(1810,1590.4)(1799,1589.2)(1798.3,1587.6)(1791.7,1586.4)(1780,1585.6)(1778.3,1584)(1795,1583.2)(1805,1582.3)(1795,1581.5)(1786.7,1579.9)(1775,1578.9)(1763.3,1578.1)(1753.3,1577.3)(1751,1575.7)(1755,1574.1)(1763.3,1573.3)(1770,1572.5)(1788.3,1571.7)(1795,1569.3)(1798.3,1565.3)(1803.3,1563)(1810,1559.8)(1811.7,1557.8)(1806.7,1554.6)(1795,1552.6)(1801.7,1549.8)(1806.7,1548.6)(1798.3,1547.4)(1780,1546.6)(1768.3,1545.4)(1766.7,1544.3)(1750,1541.9)(1738.3,1540.7)(1726.7,1538.3)(1738.3,1535.9)(1733.3,1534.3)(1750,1533.1)(1766.7,1531.5)(1780,1530.3)(1778.3,1529.1)(1750,1526.8)(1765,1525.2)(1761.7,1523.6)(1765,1521.6)(1748.3,1519.6)(1743.3,1517.2)(1750,1515.2)(1765,1513.2)(1781.7,1512)(1773.3,1510.4)(1780,1508.9)(1793.3,1506.5)(1788.3,1500.5)(1781.7,1498.9)(1773.3,1497.7)(1791.7,1495.7)(1795,1492.5)(1801.7,1488.6)(1810,1485.8)(1815,1482.2)(1816,1482.2)}
% day separators
\foreach \s in {143.3,265.3,387.3,508.7,630.7,752.7,873.3,995.3,1117.3,1238.3,1359.3,1480.3,1602.5}{\edef\t{\noexpand\daysep{\s}}\t}
% bands
\seg{bandg,band=8pt}{1726}{1816}{1546}
\seg{bandg,band=4pt}{1690}{1816}{1541.4}
\seg{bandg,band=5pt}{1690}{1816}{1533.6}
\seg{bandg,band=9pt}{1726}{1816}{1493}
\seg{red!75!black,band=6pt}{1695}{1816}{1538}
\seg{bandg,band=4.5pt}{1600}{1680}{1539}
\seg{bandg,band=4.5pt}{1600}{1687}{1530.2}
\seg{drk,band=4.5pt}{1600}{1680}{1536.3}
% value lines
\seg{blv}{144}{267}{1571.9}\seg{blv}{144}{267}{1559.9}
\seg{blv}{266}{388}{1576.7}\seg{blv}{266}{388}{1572.6}
\seg{blv}{388}{510}{1588.2}\seg{blv}{388}{510}{1583}
\seg{blv}{509}{632}{1576.6}\seg{blv}{509}{632}{1561.4}
\seg{blv}{630.7}{749.3}{1548.2}\seg{blv}{630.7}{749.3}{1528.3}
\seg{blv}{748}{872}{1531.8}\seg{blv}{748}{872}{1519.2}
\seg{blv}{870}{993}{1547.1}\seg{blv}{870}{993}{1532.4}
\seg{blv}{991}{1115}{1521.6}\seg{blv}{991}{1115}{1512.7}
\seg{blv}{1113}{1236}{1540.9}\seg{blv}{1113}{1236}{1529}
\seg{blv}{1235}{1356}{1505.1}\seg{blv}{1235}{1356}{1486.1}
\seg{blv}{1355}{1478}{1510.3}\seg{blv}{1355}{1478}{1500.4}
\seg{blv}{1477}{1600}{1526.2}\seg{blv}{1477}{1600}{1505.4}
\seg{blv}{1600}{1695}{1544.7}\seg{blv}{1598}{1695}{1538.1}
% point-of-control lines
\seg{dlvl}{389}{437}{1585.1}\seg{lvl}{437}{510}{1585.1}
\seg{lvl}{144}{267}{1565}
\seg{lvl}{510}{631.7}{1565.8}
\seg{dlvl}{266}{350}{1574.6}\seg{lvl}{350}{388}{1574.6}
\seg{dlvl}{625}{710}{1536.8}\seg{lvl}{710}{750}{1536.8}
\seg{lvl}{749.3}{870}{1523.6}
\seg{lvl}{870}{993}{1541.8}
\seg{dlvl}{993}{1040}{1517.4}\seg{lvl}{1040}{1115}{1517.4}
\seg{lvl}{1115}{1236}{1532.8}
\seg{dlvl}{1235}{1276}{1499.4}\seg{lvl}{1276}{1355.7}{1499.4}
\seg{dlvl}{1355.7}{1366.7}{1505.4}\seg{lvl}{1366.7}{1477}{1505.4}
\seg{lvl}{1477}{1600}{1515.9}
\seg{dlvl}{1600}{1633}{1539.8}\seg{lvl}{1633}{1695}{1539.8}
% orange step lines
\addplot[orn] coordinates {(59,1585.4)(107,1585.1)(107,1583.2)};
\addplot[orn] coordinates {(160,1575.4)(174,1575.4)(178,1577.6)(225,1577.6)};
\addplot[orn] coordinates {(289,1574.9)(302.5,1574.9)(302.5,1577.1)(316,1577.1)(320,1575.9)(348,1575.9)};
\addplot[orn] coordinates {(439,1584.3)(470,1584.3)(471,1577.1)};
\addplot[orn] coordinates {(530,1539.5)(548,1539.5)(548,1534.3)(595,1534.3)};
\addplot[orn] coordinates {(640,1521)(650,1523.7)(660,1523.9)(663,1527.4)(711.7,1527.4)};
\addplot[orn] coordinates {(766.7,1546.8)(780,1546.8)(781.7,1549.8)(786.7,1550.8)(796.7,1552.2)(833,1552.2)};
\addplot[orn] coordinates {(890,1516.2)(900,1517.4)(953,1516)};
\addplot[orn] coordinates {(995,1517.7)(1002,1520.1)(1017,1519.6)(1038,1516.7)(1038,1515.2)};
\addplot[orn] coordinates {(1056,1519.5)(1078,1519.5)};
\addplot[orn] coordinates {(1091.7,1528.8)(1091.7,1525.4)};
\addplot[orn] coordinates {(1206,1521.5)(1212,1505.6)(1233,1501.7)};
\addplot[orn] coordinates {(1248,1494.2)(1269,1494.2)(1269,1497.8)(1321,1497.8)};
\addplot[orn] coordinates {(1366.7,1513.5)(1380,1513.5)(1380,1511.4)};
\addplot[orn] coordinates {(1412,1509.5)(1444,1509.5)};
\addplot[orn] coordinates {(1450,1508.7)(1458,1508.7)(1460,1510.2)(1463,1513.3)(1463,1515.7)};
\addplot[orn] coordinates {(1490,1534.1)(1519.3,1534.1)(1519.3,1540.9)(1553,1540.9)};
\addplot[orn] coordinates {(1606.7,1545.6)(1615,1545.6)(1615,1531.7)(1638,1531.7)};
\addplot[orn] coordinates {(1646.7,1533.5)(1683,1533.6)(1683,1535)(1694,1538.7)};
% thick trailing dashes
\addplot[trr] coordinates {(437,1585.1)(446.8,1581.5)(462.6,1577.1)(470.5,1574.2)};
\addplot[trr] coordinates {(620,1541.1)(623,1539.4)(628,1533.6)};
\addplot[trr] coordinates {(835,1552)(863,1541.3)(868,1535)(873,1531.7)};
\addplot[trr] coordinates {(1205,1524)(1210,1516.7)(1220,1508.5)(1231.7,1502.7)};
\addplot[trr] coordinates {(1398,1510.9)(1411.7,1508.5)(1416.7,1499.8)(1430,1496.4)};
\addplot[trg] coordinates {(354,1578.1)(371.7,1581.2)(381.6,1583.4)};
\addplot[trg] coordinates {(560,1536.8)(580,1537.5)(591.7,1540.9)};
\addplot[trg] coordinates {(636.7,1519.1)(653.3,1523.9)(680,1526.4)(700,1530.2)(710,1532.6)};
\addplot[trg] coordinates {(740,1527.3)(750,1531.7)};
\addplot[trg] coordinates {(770,1548.6)(783.3,1549.6)(801.7,1551)};
\addplot[trg] coordinates {(943,1514)(953,1517.2)};
\addplot[trg] coordinates {(1063,1519.6)(1077,1521.5)};
\addplot[trg] coordinates {(1090,1527.3)(1106.7,1531.2)};
\addplot[trg] coordinates {(1256.7,1496.6)(1286.7,1497.3)(1313.3,1498.8)(1320,1499.8)};
\addplot[trg] coordinates {(1448,1501.7)(1460,1506.5)(1470,1509.9)(1476.7,1514.8)};
\addplot[trg] coordinates {(1501.7,1535.3)(1530,1538)};
% moving average
\addplot[cy,line width=1.2pt,dash pattern=on 1.2pt off 1pt] coordinates {(51.4,1587.4)(79,1585.1)(96.9,1580.5)(110.7,1580)(122.6,1574.7)(138.4,1568.4)(146.3,1571.8)(166,1574.7)(197.7,1578.6)(221.4,1578.6)(237.2,1577.6)(253,1575.2)(265.7,1575.2)(284.7,1575.2)(306.4,1577.1)(324.2,1576.6)(332,1575.4)(352,1575.2)(367.7,1581.2)(395.4,1583.9)(407.3,1584.9)(434.9,1584.9)(450.8,1579.5)(474.5,1575.2)(502,1570.8)(508.3,1564.1)(516.7,1556.8)(523.3,1551)(533.3,1545.2)(543.3,1539.9)(551.7,1537.5)(568.3,1538.4)(576.7,1537.5)(593.3,1541.4)(605,1542.3)(623.3,1538)(633.3,1531.2)(643.3,1527)(660,1527.3)(680,1528.8)(696.7,1532.2)(713.3,1535.1)(723.3,1532.7)(736.7,1527.8)(750,1533.1)(760,1538.9)(773.3,1545.2)(786.7,1549.1)(800,1551)(820,1553.2)(833.3,1552.2)(846.7,1547.2)(860,1543.3)(870,1537)(880,1528.3)(893.3,1521.8)(916.7,1517.2)(930,1514.8)(940,1513.8)(953.3,1517.7)(970,1517.2)(990,1516.7)(1003.3,1519.1)(1023.3,1518.6)(1043.3,1517.7)(1063.3,1520.6)(1083.3,1522.5)(1093.3,1525.9)(1113.3,1533.6)(1130,1529.3)(1150,1527.8)(1183.3,1527.8)(1203.3,1526.8)(1213.3,1520.6)(1220,1513.8)(1226.7,1506.5)(1233.3,1501.2)(1248.3,1497.1)(1273.3,1497.8)(1300,1498.3)(1323.3,1501.2)(1346.7,1503.1)(1356.7,1506)(1373.3,1510.4)(1390,1510.4)(1410,1509.4)(1423.3,1502.2)(1445,1497.8)(1460,1503.2)(1476.7,1518.1)(1490,1525.9)(1503.3,1530.7)(1508.3,1534.1)(1520,1537)(1536.7,1539.4)(1563.3,1539.9)(1586.7,1541.8)(1606.7,1543.3)(1620,1537)(1633.3,1534.6)(1646.7,1533.8)(1670,1537)(1686.7,1538.4)(1696.7,1536.7)};
% candles: wick, body, inner colour
\jumpplot{cand,line width=1.2pt}{\wick}
\jumpplot{cand,line width=3.4pt}{\cbody}
\jumpplot{green!50!black,line width=1.1pt}{\inup}
\jumpplot{red,line width=1.1pt}{\indn}
\jumpplot{magenta,line width=2.4pt}{\magpath}
\jumpplot{white,line width=2.4pt}{\whipath}
% dots
\addplot[only marks,mark=*,mark size=2.6pt,mark options={draw=red,fill=red}] coordinates {(375.6,1596.3)(350,1583.2)(558.3,1542.8)(552.7,1537.5)(735.3,1527)(1079.3,1529.4)(1082.3,1530)(1202,1534.8)(1352,1518.2)(1323.7,1511)(1531.7,1546.2)(1647.7,1538.5)};
\addplot[only marks,mark=*,mark size=2.6pt,mark options={draw=green!50!black,fill=green!50!black}] coordinates {(60,1580.7)(338,1568.6)(377,1577.3)(1081.3,1518.4)(1082.3,1517.5)(1325.3,1491.8)(1323,1496.1)(1400.3,1505.6)(1566.3,1532.2)(1673.3,1532.5)(1674.7,1532.2)};
\end{axis}
% panel rules
\draw[axc,line width=1pt] (0,158pt) -- (1872pt,158pt);
\draw[axc!90!black,line width=1pt] (0,56.3pt) -- (1816pt,56.3pt);
% ellipse
\draw[draw=red!55!black,fill={rgb,255:red,122;green,18;blue,18},line width=1pt] (1636.3pt,369pt) ellipse [x radius=25pt,y radius=69.3pt];
% price labels
\pricelab{598.3}{red}{1539,8}{white}
\pricelab{579}{red}{1537,7}{white}
\pricelab{631.3}{bl}{1544,8}{white}
\pricelab{586}{bl}{1538,1}{white}
\pricelab{533.3}{black}{1530,4}{white}
\pricelab{68.3}{crim}{3853}{white}
% texts
\node[anchor=base west,inner sep=0pt,text=lab,font=\fontsize{14}{15}\selectfont] at (1675pt,995.5pt) {By Patternsmart.com};
\node[anchor=base west,inner sep=0pt,text=lab,font=\fontsize{10.5}{12}\selectfont] at (5pt,142pt) {Volume up down(RTY 06-18 (15 Minute))};
\node[anchor=base west,inner sep=0pt,text=lab,font=\fontsize{10.5}{12}\selectfont] at (5pt,57pt) {© 2018 NinjaTrader, LLC};
\node[anchor=base west,inner sep=0pt,text=tk,font=\fontsize{8.3}{10}\selectfont] at (4pt,7pt) {LEVELS\ \ \_ RTY 06-18};
\node[anchor=base west,inner sep=0pt,font=\fontsize{14}{15}\selectfont] at (1730pt,4pt) {\addfontfeature{LetterSpace=24}\textcolor[HTML]{6F665C}{NINJA}\textcolor[HTML]{8A1C1C}{TRADER}};
\draw[color={rgb,255:red,111;green,102;blue,92},line width=1.8pt] (1715pt,9pt) circle (6.5pt);
\draw[color={rgb,255:red,138;green,28;blue,28},line width=1.8pt] (1711pt,15pt) -- (1716pt,3pt) -- (1720pt,15pt);
\end{tikzpicture}
\end{document}
